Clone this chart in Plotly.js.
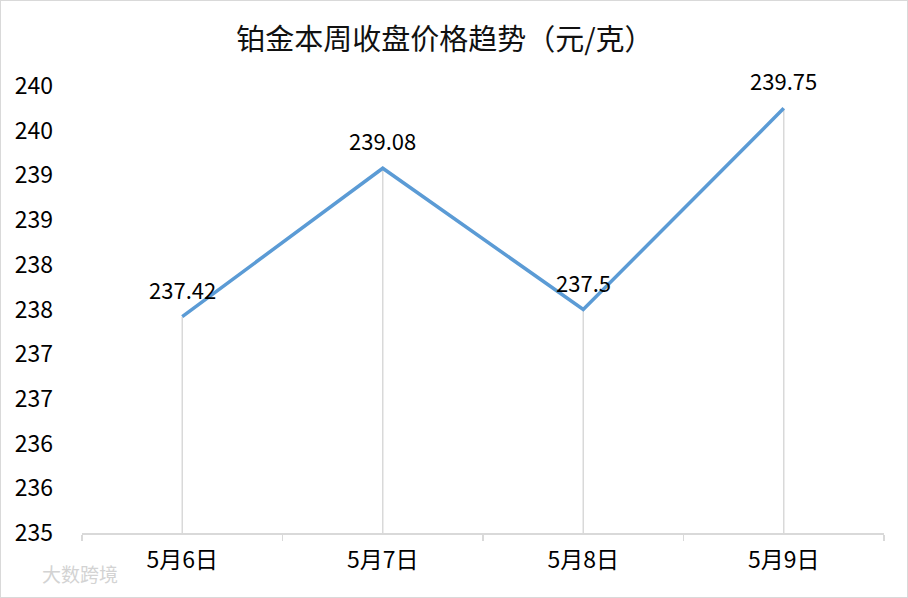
<!DOCTYPE html>
<html><head><meta charset="utf-8">
<script src="https://cdn.plot.ly/plotly-3.0.1.min.js"></script>
<style>
html,body{margin:0;padding:0;background:#fff;}
#wrap{position:relative;width:908px;height:598px;}
#chart{width:908px;height:598px;}
#frame{position:absolute;left:0;top:0;width:906px;height:596px;border:1px solid #d9d9d9;pointer-events:none;}
</style></head>
<body>
<div id="wrap"><div id="chart"></div><div id="frame"></div></div>
<script>
const categories = ["5月6日", "5月7日", "5月8日", "5月9日"];
const prices = [237.42, 239.08, 237.5, 239.75];
const yTickVals = [235, 235.5, 236, 236.5, 237, 237.5, 238, 238.5, 239, 239.5, 240];
const yTickText = yTickVals.map(v => String(Math.round(v)));
const chartTitle = "铂金本周收盘价格趋势（元/克）";
const yMin = 235, yMax = 240;

const FONT = '"Noto Sans CJK SC", "Noto Sans", sans-serif';

// drop lines from each point down to the axis
const dropX = [], dropY = [];
categories.forEach((c, i) => { dropX.push(c, c, null); dropY.push(yMin, prices[i], null); });

const traces = [
  {x: dropX, y: dropY, type: 'scatter', mode: 'lines',
   line: {color: '#d9d9d9', width: 1.5}, hoverinfo: 'skip', showlegend: false},
  {x: categories, y: prices, type: 'scatter', mode: 'lines',
   line: {color: '#5B9BD5', width: 3.5}, showlegend: false}
];

const annotations = categories.map((c, i) => ({
  x: c, y: prices[i], xref: 'x', yref: 'y', text: String(prices[i]),
  showarrow: false, yshift: 28, font: {family: FONT, size: 22, color: '#000'}
}));
annotations.push({
  xref: 'paper', yref: 'paper', x: -0.003, y: -0.09, xanchor: 'center', yanchor: 'middle',
  text: '大数跨境', showarrow: false, font: {family: FONT, size: 19, color: '#d3d3d3'}
});

const layout = {
  width: 908, height: 598,
  margin: {l: 82, r: 24, t: 86, b: 65},
  paper_bgcolor: '#fff', plot_bgcolor: '#fff',
  font: {family: FONT, color: '#000'},
  title: {text: chartTitle, x: 0.49, xanchor: 'center', y: 0.933, yanchor: 'middle',
          font: {family: FONT, size: 29, color: '#111'}},
  xaxis: {type: 'category', range: [-0.5, categories.length - 0.5],
          showline: true, linecolor: '#d9d9d9', linewidth: 1.5,
          ticks: 'outside', tickson: 'boundaries', ticklen: 6, tickcolor: '#d9d9d9', tickwidth: 1.5,
          showgrid: false, zeroline: false,
          tickfont: {family: FONT, size: 23, color: '#000'}, ticklabelstandoff: 6},
  yaxis: {range: [yMin, yMax], tickvals: yTickVals, ticktext: yTickText,
          showline: false, showgrid: false, zeroline: false, ticks: '',
          tickfont: {family: FONT, size: 23, color: '#000'}, ticklabelstandoff: 28},
  annotations: annotations
};

Plotly.newPlot('chart', traces, layout, {displayModeBar: false, staticPlot: true});
</script>
</body></html>
